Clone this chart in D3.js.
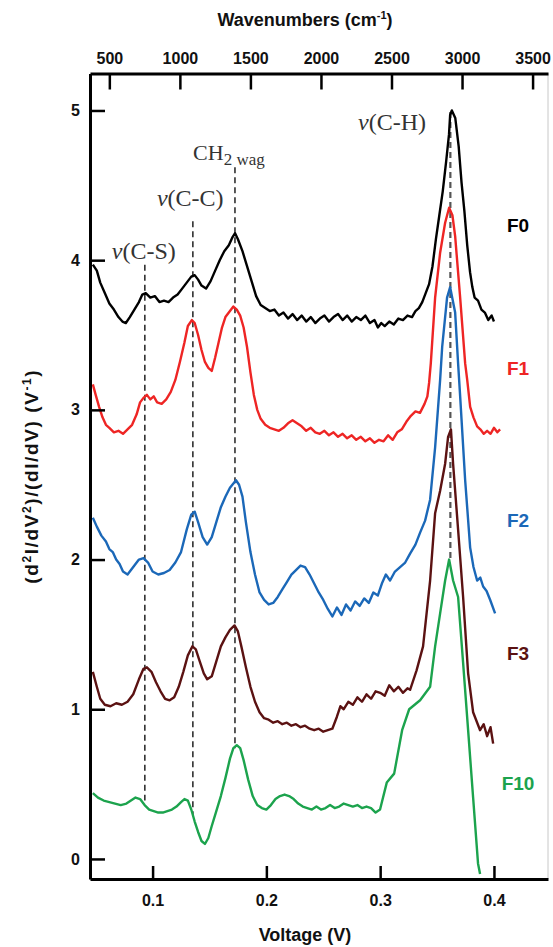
<!DOCTYPE html>
<html>
<head>
<meta charset="utf-8">
<script src="https://cdn.jsdelivr.net/npm/d3@7"></script>
<style>
	body { margin: 0; background: #fff; }
	svg { display: block; }
	.axis path, .axis line { stroke: #000; }
	.axis text { font-family: "Liberation Sans", Arial, sans-serif; font-weight: bold; font-size: 16px; fill: #111; }
	.title { font-family: "Liberation Sans", Arial, sans-serif; font-weight: bold; font-size: 18px; fill: #111; }
	.note { font-family: "Liberation Serif", "Times New Roman", serif; font-size: 24px; fill: #333; }
	.tag { font-family: "Liberation Sans", Arial, sans-serif; font-weight: bold; font-size: 19px; }
</style>
</head>
<body>
<div id="chart"></div>
<script>
// voltage / value pairs, one pair of arrays per spectrum
var f0Volt = [0.0475, 0.051, 0.054, 0.058, 0.062, 0.066, 0.070, 0.0735, 0.0765, 0.080, 0.084, 0.088, 0.091, 0.094, 0.098, 0.102, 0.106, 0.110, 0.114, 0.118, 0.122, 0.126, 0.130, 0.134, 0.137, 0.140, 0.143, 0.147, 0.151, 0.155, 0.159, 0.163, 0.167, 0.170, 0.1725, 0.175, 0.179, 0.183, 0.187, 0.191, 0.195, 0.199, 0.203, 0.207, 0.211, 0.215, 0.219, 0.223, 0.227, 0.231, 0.235, 0.239, 0.243, 0.247, 0.251, 0.255, 0.259, 0.263, 0.267, 0.271, 0.275, 0.279, 0.283, 0.287, 0.291, 0.295, 0.298, 0.301, 0.304, 0.308, 0.312, 0.316, 0.320, 0.324, 0.328, 0.331, 0.334, 0.337, 0.340, 0.343, 0.346, 0.349, 0.352, 0.355, 0.358, 0.3605, 0.3615, 0.363, 0.366, 0.369, 0.3715, 0.374, 0.3765, 0.379, 0.381, 0.383, 0.386, 0.389, 0.392, 0.395, 0.398, 0.400]
var f0Val = [3.97, 3.93, 3.85, 3.78, 3.71, 3.67, 3.62, 3.59, 3.58, 3.62, 3.67, 3.72, 3.77, 3.78, 3.75, 3.76, 3.72, 3.73, 3.72, 3.75, 3.77, 3.81, 3.85, 3.89, 3.90, 3.87, 3.83, 3.81, 3.86, 3.93, 4.00, 4.06, 4.10, 4.15, 4.18, 4.14, 4.06, 3.96, 3.86, 3.76, 3.70, 3.68, 3.66, 3.67, 3.63, 3.65, 3.61, 3.64, 3.60, 3.63, 3.59, 3.62, 3.58, 3.61, 3.63, 3.59, 3.62, 3.64, 3.60, 3.63, 3.59, 3.62, 3.60, 3.63, 3.58, 3.60, 3.55, 3.58, 3.56, 3.59, 3.57, 3.61, 3.60, 3.63, 3.62, 3.66, 3.68, 3.72, 3.78, 3.84, 3.96, 4.14, 4.30, 4.46, 4.66, 4.84, 4.97, 5.00, 4.95, 4.76, 4.52, 4.33, 4.10, 3.92, 3.82, 3.75, 3.73, 3.67, 3.65, 3.60, 3.63, 3.59, 3.60]

var f1Volt = [0.0475, 0.050, 0.053, 0.056, 0.059, 0.062, 0.066, 0.070, 0.074, 0.078, 0.082, 0.086, 0.089, 0.092, 0.095, 0.098, 0.101, 0.104, 0.108, 0.112, 0.116, 0.120, 0.124, 0.128, 0.131, 0.1345, 0.137, 0.140, 0.143, 0.146, 0.149, 0.152, 0.155, 0.158, 0.161, 0.164, 0.168, 0.171, 0.174, 0.177, 0.180, 0.183, 0.186, 0.189, 0.192, 0.195, 0.199, 0.203, 0.207, 0.211, 0.215, 0.219, 0.223, 0.227, 0.231, 0.235, 0.239, 0.243, 0.247, 0.251, 0.255, 0.259, 0.263, 0.267, 0.271, 0.275, 0.279, 0.283, 0.287, 0.291, 0.295, 0.299, 0.303, 0.307, 0.311, 0.315, 0.319, 0.323, 0.327, 0.331, 0.335, 0.339, 0.3415, 0.343, 0.3445, 0.3483, 0.3527, 0.3571, 0.3606, 0.3635, 0.3659, 0.3703, 0.3747, 0.3765, 0.3791, 0.382, 0.3852, 0.388, 0.391, 0.394, 0.397, 0.400, 0.403, 0.4054]
var f1Val = [3.17, 3.10, 3.02, 2.95, 2.90, 2.88, 2.85, 2.86, 2.84, 2.87, 2.90, 2.97, 3.05, 3.08, 3.10, 3.07, 3.09, 3.05, 3.04, 3.07, 3.12, 3.20, 3.32, 3.45, 3.56, 3.60, 3.58, 3.50, 3.40, 3.32, 3.28, 3.26, 3.35, 3.45, 3.55, 3.62, 3.66, 3.69, 3.67, 3.63, 3.55, 3.42, 3.25, 3.10, 3.00, 2.94, 2.90, 2.88, 2.87, 2.86, 2.88, 2.91, 2.93, 2.91, 2.89, 2.86, 2.88, 2.85, 2.84, 2.86, 2.83, 2.85, 2.82, 2.84, 2.81, 2.83, 2.80, 2.82, 2.79, 2.81, 2.78, 2.80, 2.79, 2.83, 2.80, 2.85, 2.87, 2.92, 2.96, 2.99, 2.98, 3.04, 3.09, 3.18, 3.31, 3.75, 4.05, 4.25, 4.35, 4.30, 4.16, 3.75, 3.31, 3.20, 3.02, 2.95, 2.89, 2.87, 2.84, 2.86, 2.84, 2.88, 2.85, 2.87]

var f2Volt = [0.0475, 0.051, 0.055, 0.059, 0.062, 0.065, 0.068, 0.071, 0.074, 0.078, 0.083, 0.088, 0.092, 0.096, 0.100, 0.105, 0.110, 0.115, 0.120, 0.125, 0.130, 0.134, 0.137, 0.140, 0.144, 0.148, 0.152, 0.156, 0.160, 0.164, 0.168, 0.1733, 0.176, 0.179, 0.182, 0.186, 0.190, 0.194, 0.198, 0.202, 0.206, 0.210, 0.214, 0.218, 0.222, 0.226, 0.230, 0.234, 0.238, 0.242, 0.246, 0.250, 0.254, 0.258, 0.262, 0.266, 0.270, 0.274, 0.278, 0.282, 0.286, 0.290, 0.294, 0.298, 0.3015, 0.305, 0.3087, 0.313, 0.3175, 0.322, 0.3263, 0.331, 0.3351, 0.3395, 0.3439, 0.3483, 0.3527, 0.3545, 0.3588, 0.3615, 0.3659, 0.3685, 0.3703, 0.3747, 0.3791, 0.382, 0.3852, 0.388, 0.3905, 0.3935, 0.3967, 0.401]
var f2Val = [2.28, 2.22, 2.16, 2.12, 2.07, 2.05, 2.00, 1.97, 1.92, 1.90, 1.95, 2.00, 2.01, 1.98, 1.92, 1.90, 1.91, 1.93, 1.98, 2.05, 2.20, 2.30, 2.32, 2.25, 2.15, 2.10, 2.15, 2.25, 2.35, 2.42, 2.48, 2.53, 2.50, 2.42, 2.25, 2.05, 1.90, 1.78, 1.73, 1.70, 1.71, 1.75, 1.80, 1.85, 1.90, 1.93, 1.96, 1.95, 1.90, 1.84, 1.78, 1.73, 1.67, 1.62, 1.68, 1.63, 1.70, 1.66, 1.72, 1.69, 1.74, 1.71, 1.78, 1.76, 1.84, 1.90, 1.86, 1.92, 1.95, 1.98, 2.04, 2.10, 2.18, 2.26, 2.40, 2.75, 3.20, 3.42, 3.75, 3.82, 3.65, 3.31, 3.09, 2.53, 2.08, 1.95, 1.86, 1.88, 1.82, 1.79, 1.73, 1.64]

var f3Volt = [0.0475, 0.051, 0.054, 0.058, 0.063, 0.068, 0.073, 0.078, 0.083, 0.088, 0.092, 0.095, 0.099, 0.103, 0.107, 0.111, 0.115, 0.119, 0.123, 0.127, 0.131, 0.135, 0.138, 0.141, 0.145, 0.148, 0.152, 0.156, 0.160, 0.164, 0.168, 0.172, 0.175, 0.178, 0.182, 0.186, 0.190, 0.194, 0.198, 0.202, 0.206, 0.210, 0.214, 0.218, 0.222, 0.226, 0.230, 0.234, 0.238, 0.242, 0.246, 0.250, 0.254, 0.258, 0.262, 0.265, 0.268, 0.272, 0.276, 0.280, 0.284, 0.288, 0.292, 0.296, 0.300, 0.304, 0.308, 0.312, 0.316, 0.320, 0.324, 0.3263, 0.332, 0.3377, 0.3439, 0.3483, 0.3527, 0.3571, 0.3597, 0.3622, 0.3641, 0.3685, 0.3729, 0.3773, 0.3817, 0.3878, 0.391, 0.394, 0.397, 0.3993]
var f3Val = [1.25, 1.15, 1.07, 1.03, 1.02, 1.04, 1.03, 1.05, 1.10, 1.20, 1.27, 1.28, 1.25, 1.18, 1.12, 1.07, 1.06, 1.08, 1.15, 1.25, 1.36, 1.42, 1.40, 1.33, 1.24, 1.20, 1.22, 1.32, 1.42, 1.48, 1.53, 1.56, 1.52, 1.42, 1.28, 1.15, 1.05, 0.98, 0.94, 0.93, 0.91, 0.92, 0.90, 0.91, 0.89, 0.90, 0.88, 0.89, 0.87, 0.86, 0.87, 0.85, 0.86, 0.87, 0.95, 1.02, 1.00, 1.05, 1.03, 1.08, 1.05, 1.10, 1.07, 1.12, 1.11, 1.09, 1.16, 1.12, 1.15, 1.11, 1.14, 1.13, 1.26, 1.42, 1.86, 2.31, 2.46, 2.64, 2.82, 2.87, 2.64, 2.20, 1.75, 1.24, 0.98, 0.86, 0.90, 0.82, 0.88, 0.77]

var f10Volt = [0.0475, 0.052, 0.057, 0.062, 0.067, 0.072, 0.077, 0.081, 0.085, 0.089, 0.093, 0.097, 0.101, 0.105, 0.109, 0.113, 0.117, 0.121, 0.125, 0.128, 0.131, 0.134, 0.137, 0.140, 0.143, 0.146, 0.149, 0.152, 0.156, 0.160, 0.164, 0.168, 0.171, 0.174, 0.177, 0.180, 0.184, 0.188, 0.192, 0.196, 0.200, 0.204, 0.208, 0.212, 0.216, 0.220, 0.224, 0.228, 0.232, 0.236, 0.240, 0.244, 0.248, 0.252, 0.256, 0.260, 0.264, 0.268, 0.272, 0.276, 0.280, 0.284, 0.288, 0.292, 0.296, 0.2999, 0.3058, 0.3123, 0.3193, 0.3255, 0.3351, 0.3439, 0.3483, 0.3527, 0.3571, 0.3606, 0.3641, 0.3685, 0.3729, 0.3773, 0.3817, 0.386, 0.3878]
var f10Val = [0.44, 0.41, 0.39, 0.38, 0.37, 0.36, 0.37, 0.39, 0.41, 0.40, 0.36, 0.33, 0.32, 0.31, 0.31, 0.32, 0.33, 0.35, 0.38, 0.40, 0.39, 0.33, 0.25, 0.18, 0.12, 0.10, 0.14, 0.22, 0.32, 0.42, 0.54, 0.67, 0.74, 0.76, 0.74, 0.66, 0.53, 0.42, 0.36, 0.34, 0.33, 0.36, 0.40, 0.42, 0.43, 0.42, 0.40, 0.37, 0.35, 0.34, 0.33, 0.35, 0.33, 0.34, 0.36, 0.34, 0.35, 0.37, 0.36, 0.35, 0.36, 0.34, 0.35, 0.34, 0.31, 0.33, 0.51, 0.57, 0.86, 1.00, 1.06, 1.15, 1.42, 1.64, 1.86, 2.00, 1.86, 1.75, 1.31, 0.86, 0.41, -0.03, -0.10]

var seriesNames = ['F0', 'F1', 'F2', 'F3', 'F10']
var seriesColors = ['#000000', '#ee2524', '#1b68b8', '#5b1212', '#1ca34d']
var labelValues = [4.19, 3.23, 2.22, 1.33, 0.46]

// mode assignments: dashed marker position, dash top/bottom, text anchor
var modeNames = ['C-S', 'C-C', 'CH2', 'C-H']
var modeVolt = [0.0932, 0.1354, 0.1724, 0.3617]
var modeTop = [3.97, 4.26, 4.62, 4.99]
var modeBottom = [0.39, 0.29, 0.74, 2.0]
var modeTextVolt = [0.0642, 0.1038, 0.1356, 0.2806]
var modeTextVal = [4.01, 4.36, 4.67, 4.87]

var voltTicks = [0.1, 0.2, 0.3, 0.4]
var waveTicks = [500, 1000, 1500, 2000, 2500, 3000, 3500]
var valueTicks = [0, 1, 2, 3, 4, 5]

var width = 553
var height = 947
var margin = { top: 73.5, right: 5, bottom: 68, left: 90 }
var cmPerVolt = 8065.5

var svg = d3.select('#chart').append('svg')
	.attr('width', width)
	.attr('height', height)

var x = d3.scaleLinear()
	.domain([0.045, 0.4475])
	.range([margin.left, width - margin.right])

var xTop = d3.scaleLinear()
	.domain(x.domain().map(function(v) { return v * cmPerVolt }))
	.range(x.range())

var y = d3.scaleLinear()
	.domain([-0.134, 5.247])
	.range([height - margin.bottom, margin.top])

svg.append('clipPath').attr('id', 'plot')
	.append('rect')
	.attr('x', margin.left).attr('y', margin.top)
	.attr('width', width - margin.left - margin.right)
	.attr('height', height - margin.top - margin.bottom)

// faint right border
svg.append('line')
	.attr('x1', x.range()[1]).attr('x2', x.range()[1])
	.attr('y1', margin.top).attr('y2', height - margin.bottom)
	.attr('stroke', '#c8c8c8').attr('stroke-width', 1)

// dashed mode markers
svg.append('g').selectAll('line')
	.data(modeNames)
	.enter().append('line')
	.attr('x1', function(d, i) { return x(modeVolt[i]) })
	.attr('x2', function(d, i) { return x(modeVolt[i]) })
	.attr('y1', function(d, i) { return y(modeTop[i]) })
	.attr('y2', function(d, i) { return y(modeBottom[i]) })
	.attr('stroke', function(d, i) { return i === 3 ? '#555' : '#222' })
	.attr('stroke-width', function(d, i) { return i === 3 ? 2.2 : 1.5 })
	.attr('stroke-dasharray', '6,4')

var line = d3.line()
	.x(function(d) { return x(d[0]) })
	.y(function(d) { return y(d[1]) })

var seriesVolt = [f0Volt, f1Volt, f2Volt, f3Volt, f10Volt]
var seriesVal = [f0Val, f1Val, f2Val, f3Val, f10Val]

svg.append('g').attr('clip-path', 'url(#plot)')
	.selectAll('path')
	.data(seriesNames)
	.enter().append('path')
	.attr('d', function(d, i) { return line(d3.zip(seriesVolt[i], seriesVal[i])) })
	.attr('fill', 'none')
	.attr('stroke', function(d, i) { return seriesColors[i] })
	.attr('stroke-width', 2.4)
	.attr('stroke-linejoin', 'round')

// series tags
svg.append('g').selectAll('text')
	.data(seriesNames)
	.enter().append('text')
	.attr('class', 'tag')
	.attr('x', 518)
	.attr('y', function(d, i) { return y(labelValues[i]) })
	.attr('text-anchor', 'middle')
	.attr('fill', function(d, i) { return seriesColors[i] })
	.text(function(d) { return d })

// mode labels
var notes = svg.append('g').selectAll('text')
	.data(modeNames)
	.enter().append('text')
	.attr('class', 'note')
	.attr('x', function(d, i) { return x(modeTextVolt[i]) })
	.attr('y', function(d, i) { return y(modeTextVal[i]) })

notes.each(function(d) {
	var t = d3.select(this)
	if (d === 'CH2') {
		t.style('font-size', '22px')
		t.append('tspan').text('CH')
		t.append('tspan').attr('dy', 5).attr('font-size', '17px').text('2 wag')
	} else {
		t.append('tspan').attr('font-style', 'italic').text('\u03bd')
		t.append('tspan').text('(' + d + ')')
	}
})

// axes
var axisBottom = d3.axisBottom(x)
	.tickValues(voltTicks)
	.tickFormat(d3.format('.1f'))
	.tickSizeInner(-13).tickSizeOuter(0).tickPadding(16)

var axisTop = d3.axisTop(xTop)
	.tickValues(waveTicks)
	.tickFormat(d3.format('d'))
	.tickSizeInner(-16).tickSizeOuter(0).tickPadding(10)

var axisLeft = d3.axisLeft(y)
	.tickValues(valueTicks)
	.tickFormat(d3.format('d'))
	.tickSizeInner(-15).tickSizeOuter(0).tickPadding(10)

function styleAxis(g) {
	g.select('.domain').attr('stroke-width', 3)
	g.selectAll('.tick line').attr('stroke-width', 2.5)
}

svg.append('g').attr('class', 'axis')
	.attr('transform', 'translate(0,' + (height - margin.bottom) + ')')
	.call(axisBottom).call(styleAxis)

svg.append('g').attr('class', 'axis')
	.attr('transform', 'translate(0,' + margin.top + ')')
	.call(axisTop).call(styleAxis)

svg.append('g').attr('class', 'axis')
	.attr('transform', 'translate(' + margin.left + ',0)')
	.call(axisLeft).call(styleAxis)

// titles
svg.append('text').attr('class', 'title')
	.attr('x', 305).attr('y', 941)
	.attr('text-anchor', 'middle')
	.text('Voltage (V)')

var topTitle = svg.append('text').attr('class', 'title')
	.attr('x', 305).attr('y', 26)
	.attr('text-anchor', 'middle')
topTitle.append('tspan').text('Wavenumbers (cm')
topTitle.append('tspan').attr('dy', -7).attr('font-size', '11px').text('-1')
topTitle.append('tspan').attr('dy', 7).text(')')

var yTitle = svg.append('text').attr('class', 'title')
	.attr('transform', 'translate(38,' + ((margin.top + height - margin.bottom) / 2) + ') rotate(-90)')
	.attr('text-anchor', 'middle')
	.style('font-size', '19px')
	.style('letter-spacing', '1.6px')
yTitle.append('tspan').text('(d')
yTitle.append('tspan').attr('dy', -7).attr('font-size', '12px').text('2')
yTitle.append('tspan').attr('dy', 7).text('I/dV')
yTitle.append('tspan').attr('dy', -7).attr('font-size', '12px').text('2')
yTitle.append('tspan').attr('dy', 7).text(')/(dI/dV) (V')
yTitle.append('tspan').attr('dy', -7).attr('font-size', '12px').text('-1')
yTitle.append('tspan').attr('dy', 7).text(')')
</script>
</body>
</html>
